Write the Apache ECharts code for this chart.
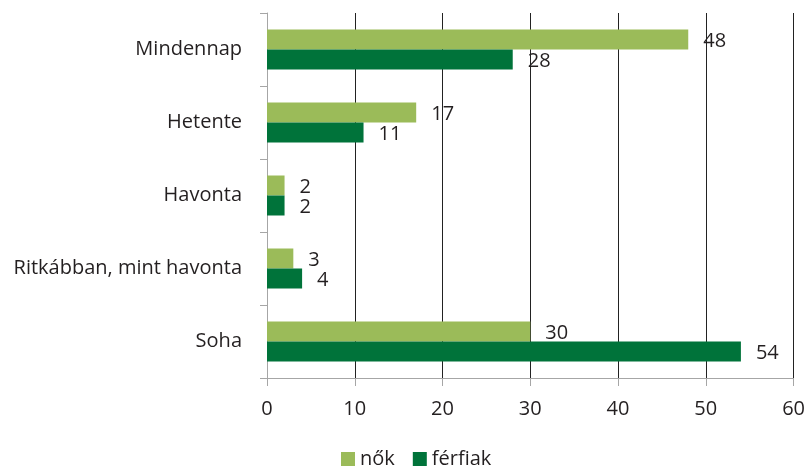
<!DOCTYPE html>
<html>
<head>
<meta charset="utf-8">
<script src="https://cdn.jsdelivr.net/npm/echarts@6/dist/echarts.min.js"></script>
<style>
  html, body { margin: 0; padding: 0; background: #fff; }
  #chart { width: 808px; height: 468px; }
</style>
</head>
<body>
<div id="chart"></div>
<script>
// categories top to bottom
var categories = ['Mindennap', 'Hetente', 'Havonta', 'Ritkábban, mint havonta', 'Soha']
var noValues = [48, 17, 2, 3, 30]
var ferfiValues = [28, 11, 2, 4, 54]
var seriesNames = ['nők', 'férfiak']
var xTicks = [0, 10, 20, 30, 40, 50, 60]

var chart = echarts.init(document.getElementById('chart'))
var font = 'Open Sans'
var txt = '#231f20'

var option = {
  animation: false,
  grid: { left: 267, right: 12, top: 13, bottom: 90 },
  legend: {
    bottom: -6,
    left: 336,
    itemWidth: 14,
    itemHeight: 14,
    itemGap: 18,
    icon: 'rect',
    textStyle: { fontFamily: font, fontSize: 20, color: txt },
    data: seriesNames
  },
  xAxis: {
    type: 'value',
    min: xTicks[0],
    max: xTicks[xTicks.length - 1],
    interval: 10,
    axisLine: { show: true, lineStyle: { color: '#a6a6a6' } },
    axisTick: { show: true, length: 8, lineStyle: { color: '#a6a6a6' } },
    axisLabel: { fontFamily: font, fontSize: 20, color: txt, margin: 21 },
    splitLine: { show: true, lineStyle: { color: '#222', width: 1 } }
  },
  yAxis: {
    type: 'category',
    inverse: true,
    data: categories,
    axisLine: { show: true, lineStyle: { color: '#a6a6a6' } },
    axisTick: { show: true, length: 7, lineStyle: { color: '#a6a6a6' } },
    axisLabel: { fontFamily: font, fontSize: 20, color: txt, margin: 25 }
  },
  series: [
    {
      name: seriesNames[0],
      type: 'bar',
      data: noValues,
      barWidth: 20,
      barGap: '0%',
      itemStyle: { color: '#9bbb59' },
      label: { show: true, position: 'right', distance: 15, fontFamily: font, fontSize: 20, color: txt, offset: [0, 2] }
    },
    {
      name: seriesNames[1],
      type: 'bar',
      data: ferfiValues,
      barWidth: 20,
      barGap: '0%',
      itemStyle: { color: '#00733a' },
      label: { show: true, position: 'right', distance: 15, fontFamily: font, fontSize: 20, color: txt, offset: [0, 2] }
    }
  ]
}
chart.setOption(option)
</script>
</body>
</html>
